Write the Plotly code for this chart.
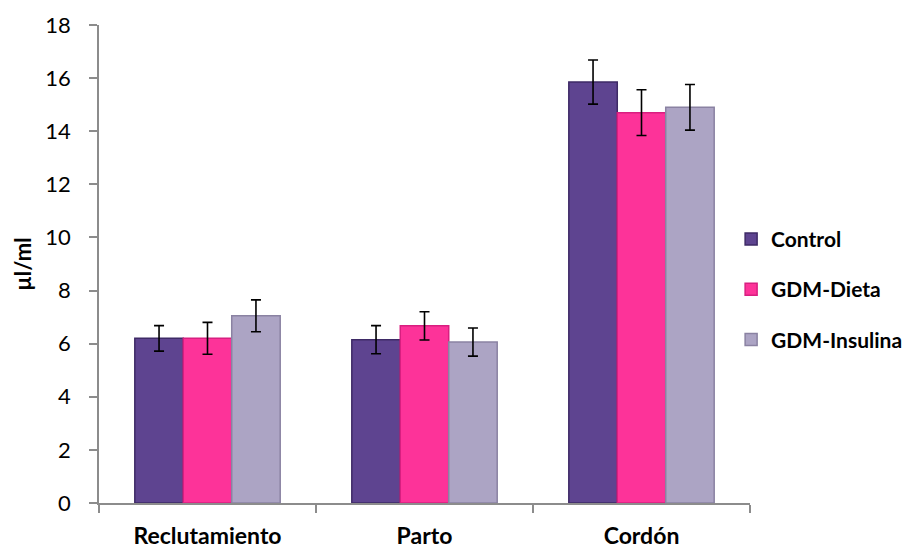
import plotly.graph_objects as go

categories = ["Reclutamiento", "Parto", "Cordón"]
series_names = ["Control", "GDM-Dieta", "GDM-Insulina"]
control = [6.2, 6.15, 15.85]
control_err = [0.48, 0.53, 0.83]
dieta = [6.2, 6.67, 14.7]
dieta_err = [0.6, 0.53, 0.86]
insulina = [7.05, 6.06, 14.9]
insulina_err = [0.6, 0.53, 0.86]
y_ticks = [0, 2, 4, 6, 8, 10, 12, 14, 16, 18]

colors = ["#5e4490", "#fd3399", "#aca4c4"]
edge_colors = ["#3e2a66", "#d81f80", "#8a82a2"]

xpos = list(range(len(categories)))
fig = go.Figure()
for name, vals, errs, c, ec in zip(series_names, [control, dieta, insulina],
                                   [control_err, dieta_err, insulina_err],
                                   colors, edge_colors):
    fig.add_trace(go.Bar(
        x=xpos, y=vals, name=name, legendgroup=name,
        marker=dict(color=c, line=dict(color=ec, width=1.5)),
        error_y=dict(type="data", array=errs, visible=True,
                     color="black", thickness=1.6, width=5),
    ))

fig.update_layout(
    width=912, height=541,
    barmode="group", bargap=0.33, bargroupgap=0,
    plot_bgcolor="white", paper_bgcolor="white",
    margin=dict(l=91, r=170, t=17, b=46),
    font=dict(family="Lato, 'Open Sans', sans-serif", color="black"),
    showlegend=True,
    legend=dict(x=0.971, xanchor="left", y=0.447, yanchor="middle",
                font=dict(size=21, family="Lato", weight="bold"),
                tracegroupgap=20, bgcolor="rgba(0,0,0,0)"),
    xaxis=dict(range=[-0.5, 2.5], tickmode="array", tickvals=xpos,
               ticktext=[f"<b>{c}</b>" for c in categories],
               ticks="", showline=True, linecolor="#8c8c8c", linewidth=1.5,
               tickfont=dict(size=23, family="Lato"), automargin=False,
               minor=dict(tickmode="linear", tick0=0.5, dtick=1, ticks="outside",
                          ticklen=8, tickcolor="#8c8c8c", tickwidth=1.5),
               showgrid=False, zeroline=False, ticklabelstandoff=12),
    yaxis=dict(range=[0, 18], tickmode="array", tickvals=y_ticks,
               ticks="outside", ticklen=8, tickcolor="#8c8c8c", tickwidth=1.5,
               showline=True, linecolor="#8c8c8c", linewidth=1.5, automargin=False,
               tickfont=dict(size=22, family="Lato"), showgrid=False, zeroline=False,
               ticklabelstandoff=14,
               title=dict(text="<b>µl/ml</b>", font=dict(size=22, family="Lato"), standoff=8)),
)

fig.write_html("out.html")
